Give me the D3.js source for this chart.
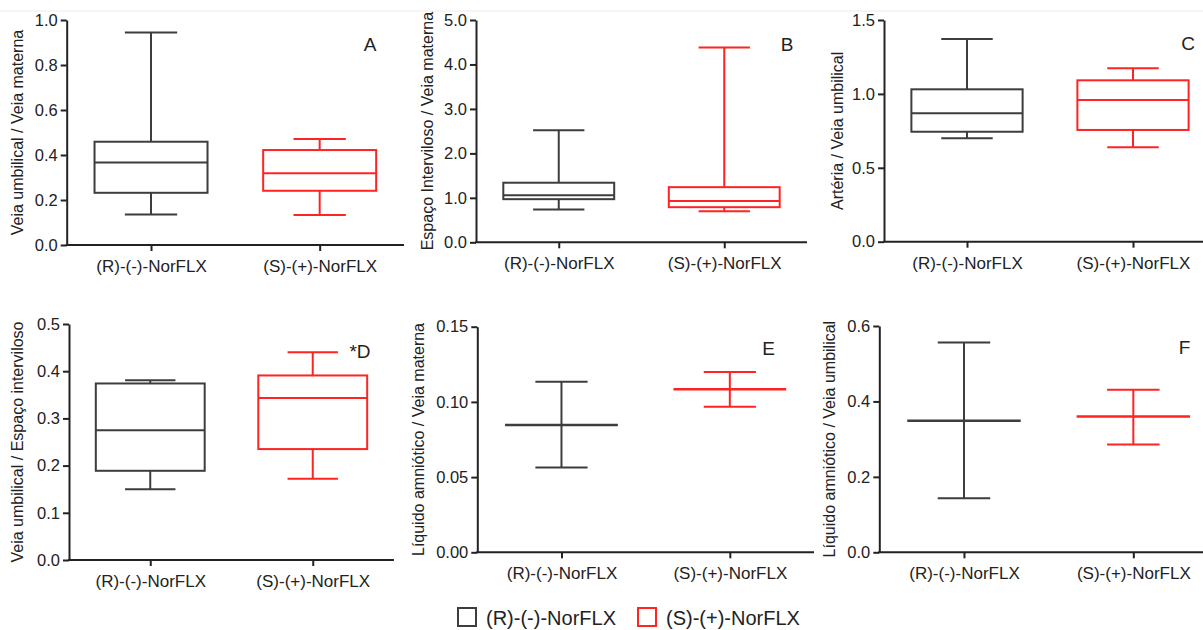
<!DOCTYPE html>
<html><head><meta charset="utf-8">
<script src="https://cdn.jsdelivr.net/npm/d3@7"></script>
<style>
body{margin:0;background:#fff}
svg{display:block}
text{font-family:"Liberation Sans",Arial,Helvetica,sans-serif;fill:#222}
</style>
</head><body>
<svg id="chart" width="1203" height="630"></svg>
<script>
// ---------------- data ----------------
const categories = ["(R)-(-)-NorFLX", "(S)-(+)-NorFLX"];
const seriesColors = ["#3d3d3d", "#ff2323"];

// box stats: [min, q1, median, q3, max] per category
const statsA = [[0.136, 0.232, 0.367, 0.459, 0.944], [0.133, 0.241, 0.319, 0.422, 0.471]];
const statsB = [[0.74, 0.97, 1.06, 1.34, 2.52], [0.70, 0.79, 0.93, 1.24, 4.38]];
const statsC = [[0.700, 0.744, 0.869, 1.031, 1.371], [0.639, 0.756, 0.959, 1.092, 1.173]];
const statsD = [[0.150, 0.189, 0.275, 0.374, 0.381], [0.172, 0.235, 0.343, 0.391, 0.440]];

// mean with error bars
const meanE = [0.0846, 0.1084];
const lowE  = [0.0563, 0.0968];
const highE = [0.1134, 0.1199];
const meanF = [0.349, 0.360];
const lowF  = [0.143, 0.286];
const highF = [0.556, 0.431];

// tick values
const ticksA = [0, 0.2, 0.4, 0.6, 0.8, 1.0];
const ticksB = [0, 1, 2, 3, 4, 5];
const ticksC = [0, 0.5, 1.0, 1.5];
const ticksD = [0, 0.1, 0.2, 0.3, 0.4, 0.5];
const ticksE = [0, 0.05, 0.10, 0.15];
const ticksF = [0, 0.2, 0.4, 0.6];

const yTitles = [
  "Veia umbilical / Veia materna",
  "Espaço Interviloso / Veia materna",
  "Artéria / Veia umbilical",
  "Veia umbilical / Espaço interviloso",
  "Líquido amniótico / Veia materna",
  "Líquido amniótico / Veia umbilical"
];
const panelLetters = ["A", "B", "C", "*D", "E", "F"];

// ---------------- layout ----------------
const layout = [
  {ax: 66.7,  xEnd: 404,  yTop: 20,    yBot: 245,   titleX: 23,  letter: [370, 51]},
  {ax: 476,   xEnd: 807,  yTop: 20,    yBot: 242.3, titleX: 433, letter: [787, 51]},
  {ax: 884,   xEnd: 1216, yTop: 20,    yBot: 241.7, titleX: 843, letter: [1188, 50]},
  {ax: 69,    xEnd: 394,  yTop: 324,   yBot: 560,   titleX: 23,  letter: [360, 358]},
  {ax: 477.3, xEnd: 814,  yTop: 326.7, yBot: 552.3, titleX: 424, letter: [768.5, 355]},
  {ax: 879.3, xEnd: 1218, yTop: 326,   yBot: 552.3, titleX: 835, letter: [1184.5, 354]}
];

const panels = [
  {kind: "box", stats: statsA, ticks: ticksA, fmt: ".1f"},
  {kind: "box", stats: statsB, ticks: ticksB, fmt: ".1f"},
  {kind: "box", stats: statsC, ticks: ticksC, fmt: ".1f"},
  {kind: "box", stats: statsD, ticks: ticksD, fmt: ".1f"},
  {kind: "err", mean: meanE, low: lowE, high: highE, ticks: ticksE, fmt: ".2f"},
  {kind: "err", mean: meanF, low: lowF, high: highF, ticks: ticksF, fmt: ".1f"}
];

const svg = d3.select("#chart");

// faint top rule
svg.append("line").attr("x1", 0).attr("x2", 1203).attr("y1", 11).attr("y2", 11)
  .attr("stroke", "#ececec").attr("stroke-width", 1);

panels.forEach((p, i) => {
  const L = layout[i];
  const g = svg.append("g");
  const y = d3.scaleLinear().domain([0, d3.max(p.ticks)]).range([L.yBot, L.yTop]);
  const x = d3.scalePoint().domain(categories).range([L.ax, L.xEnd]).padding(0.5);
  const step = x.step();
  const boxW = step * 0.67, capW = step * 0.31;

  // y axis
  const ya = g.append("g").attr("transform", `translate(${L.ax},0)`)
    .call(d3.axisLeft(y).tickValues(p.ticks).tickFormat(d3.format(p.fmt))
      .tickSize(6).tickSizeOuter(0).tickPadding(3));
  ya.select(".domain").attr("stroke", "#222").attr("stroke-width", 2);
  ya.selectAll(".tick line").attr("stroke", "#222").attr("stroke-width", 2);
  ya.selectAll(".tick text").attr("font-size", 16.5).attr("fill", "#222")
    .attr("font-family", "Liberation Sans, Arial, sans-serif");

  // x axis
  const xa = g.append("g").attr("transform", `translate(0,${L.yBot})`)
    .call(d3.axisBottom(x).tickSize(6).tickSizeOuter(0).tickPadding(9));
  xa.select(".domain").attr("stroke", "#222").attr("stroke-width", 2)
    .attr("d", `M${L.ax - 1},0H${L.xEnd}`);
  xa.selectAll(".tick line").attr("stroke", "#222").attr("stroke-width", 2);
  xa.selectAll(".tick text").attr("font-size", 17).attr("fill", "#222")
    .attr("font-family", "Liberation Sans, Arial, sans-serif");

  // y title
  g.append("text")
    .attr("transform", `translate(${L.titleX},${(L.yTop + L.yBot) / 2}) rotate(-90)`)
    .attr("text-anchor", "middle").attr("font-size", 16)
    .text(yTitles[i]);

  // panel letter
  g.append("text").attr("x", L.letter[0]).attr("y", L.letter[1])
    .attr("text-anchor", "middle").attr("font-size", 19)
    .text(panelLetters[i]);

  const marks = g.append("g").attr("fill", "none").attr("stroke-width", 2);

  categories.forEach((c, k) => {
    const cx = x(c);
    const col = seriesColors[k];
    if (p.kind === "box") {
      const [mn, q1, md, q3, mx] = p.stats[k];
      // whiskers
      marks.append("line").attr("x1", cx).attr("x2", cx).attr("y1", y(q3)).attr("y2", y(mx)).attr("stroke", col);
      marks.append("line").attr("x1", cx).attr("x2", cx).attr("y1", y(q1)).attr("y2", y(mn)).attr("stroke", col);
      marks.append("line").attr("x1", cx - capW / 2).attr("x2", cx + capW / 2).attr("y1", y(mx)).attr("y2", y(mx)).attr("stroke", col);
      marks.append("line").attr("x1", cx - capW / 2).attr("x2", cx + capW / 2).attr("y1", y(mn)).attr("y2", y(mn)).attr("stroke", col);
      // box
      marks.append("rect").attr("x", cx - boxW / 2).attr("width", boxW)
        .attr("y", y(q3)).attr("height", y(q1) - y(q3)).attr("stroke", col).attr("fill", "none");
      marks.append("line").attr("x1", cx - boxW / 2).attr("x2", cx + boxW / 2).attr("y1", y(md)).attr("y2", y(md)).attr("stroke", col);
    } else {
      const m = p.mean[k], lo = p.low[k], hi = p.high[k];
      marks.append("line").attr("x1", cx).attr("x2", cx).attr("y1", y(lo)).attr("y2", y(hi)).attr("stroke", col);
      marks.append("line").attr("x1", cx - capW / 2).attr("x2", cx + capW / 2).attr("y1", y(hi)).attr("y2", y(hi)).attr("stroke", col);
      marks.append("line").attr("x1", cx - capW / 2).attr("x2", cx + capW / 2).attr("y1", y(lo)).attr("y2", y(lo)).attr("stroke", col);
      marks.append("line").attr("x1", cx - boxW / 2).attr("x2", cx + boxW / 2).attr("y1", y(m)).attr("y2", y(m)).attr("stroke", col).attr("stroke-width", 2.5);
    }
  });
});

// legend
const legendX = [458, 638];
const leg = svg.append("g");
categories.forEach((c, k) => {
  leg.append("rect").attr("x", legendX[k]).attr("y", 608).attr("width", 18).attr("height", 18)
    .attr("fill", "none").attr("stroke", seriesColors[k]).attr("stroke-width", 2);
  leg.append("text").attr("x", legendX[k] + 28).attr("y", 625).attr("font-size", 20).text(c);
});
</script>
</body></html>
